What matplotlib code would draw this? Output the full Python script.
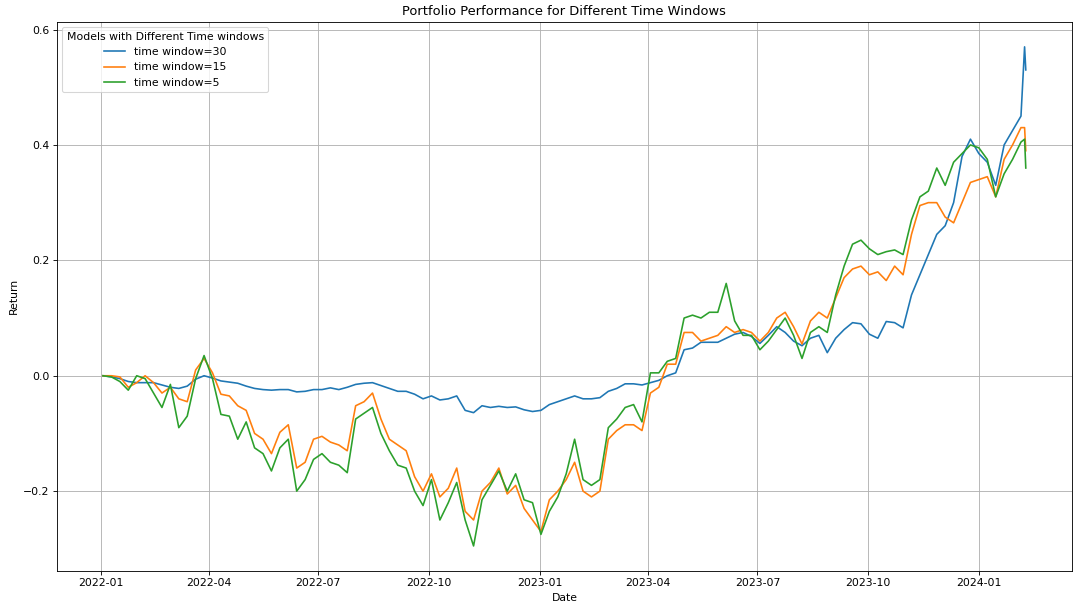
import pandas as pd
import matplotlib
matplotlib.use("Agg")
import matplotlib.pyplot as plt
import matplotlib.dates as mdates

# Weekly readings (Mondays), plus the last two days
dates = list(pd.date_range("2022-01-03", periods=110, freq="7D")) + \
    [pd.Timestamp("2024-02-08"), pd.Timestamp("2024-02-09")]

window_30 = [
    0.0, -0.002, -0.005, -0.01, -0.012, -0.012, -0.012, -0.016, -0.02, -0.022,
    -0.018, -0.006, 0.0, -0.004, -0.009, -0.011, -0.013, -0.018, -0.022, -0.024,
    -0.025, -0.024, -0.024, -0.028, -0.027, -0.024, -0.024, -0.021, -0.024, -0.02,
    -0.015, -0.013, -0.012, -0.017, -0.022, -0.027, -0.027, -0.032, -0.04, -0.035,
    -0.042, -0.04, -0.035, -0.06, -0.064, -0.052, -0.055, -0.053, -0.055, -0.054,
    -0.059, -0.062, -0.06, -0.05, -0.045, -0.04, -0.035, -0.04, -0.04, -0.038,
    -0.027, -0.022, -0.014, -0.014, -0.016, -0.012, -0.008, 0.0, 0.005, 0.045,
    0.048, 0.058, 0.058, 0.058, 0.065, 0.072, 0.075, 0.068, 0.056, 0.07,
    0.085, 0.075, 0.06, 0.052, 0.065, 0.07, 0.04, 0.065, 0.08, 0.092,
    0.09, 0.072, 0.065, 0.094, 0.092, 0.083, 0.14, 0.175, 0.21, 0.245,
    0.26, 0.3, 0.38, 0.41, 0.385, 0.37, 0.33, 0.4, 0.425, 0.45,
    0.57, 0.53,
]

window_15 = [
    0.0, 0.0, -0.002, -0.02, -0.012, 0.0, -0.012, -0.03, -0.02, -0.04,
    -0.045, 0.01, 0.03, 0.005, -0.032, -0.035, -0.052, -0.06, -0.1, -0.11,
    -0.135, -0.098, -0.085, -0.16, -0.15, -0.11, -0.105, -0.115, -0.12, -0.13,
    -0.052, -0.045, -0.03, -0.075, -0.11, -0.12, -0.13, -0.175, -0.2, -0.17,
    -0.21, -0.195, -0.16, -0.235, -0.25, -0.2, -0.185, -0.16, -0.205, -0.19,
    -0.23, -0.25, -0.27, -0.215, -0.2, -0.18, -0.15, -0.2, -0.21, -0.2,
    -0.11, -0.095, -0.085, -0.085, -0.095, -0.03, -0.02, 0.02, 0.02, 0.075,
    0.075, 0.06, 0.065, 0.07, 0.085, 0.075, 0.08, 0.075, 0.06, 0.075,
    0.1, 0.11, 0.085, 0.055, 0.095, 0.11, 0.1, 0.135, 0.17, 0.185,
    0.19, 0.175, 0.18, 0.165, 0.19, 0.175, 0.245, 0.295, 0.3, 0.3,
    0.275, 0.265, 0.3, 0.335, 0.34, 0.345, 0.31, 0.375, 0.4, 0.43,
    0.43, 0.39,
]

window_5 = [
    0.0, -0.002, -0.01, -0.025, 0.0, -0.005, -0.03, -0.055, -0.015, -0.09,
    -0.07, -0.005, 0.035, -0.005, -0.067, -0.07, -0.11, -0.08, -0.125, -0.135,
    -0.165, -0.125, -0.11, -0.2, -0.18, -0.145, -0.135, -0.15, -0.155, -0.168,
    -0.075, -0.065, -0.055, -0.1, -0.13, -0.155, -0.16, -0.2, -0.225, -0.18,
    -0.25, -0.22, -0.185, -0.25, -0.295, -0.215, -0.19, -0.165, -0.2, -0.17,
    -0.215, -0.22, -0.275, -0.235, -0.21, -0.17, -0.11, -0.18, -0.19, -0.18,
    -0.09, -0.075, -0.055, -0.05, -0.08, 0.005, 0.005, 0.025, 0.03, 0.1,
    0.105, 0.1, 0.11, 0.11, 0.16, 0.095, 0.07, 0.07, 0.045, 0.06,
    0.08, 0.1, 0.07, 0.03, 0.075, 0.085, 0.075, 0.14, 0.19, 0.228,
    0.235, 0.22, 0.21, 0.215, 0.218, 0.21, 0.27, 0.31, 0.32, 0.36,
    0.33, 0.37, 0.385, 0.4, 0.395, 0.375, 0.31, 0.35, 0.375, 0.405,
    0.41, 0.36,
]

series = [
    ("time window=30", window_30),
    ("time window=15", window_15),
    ("time window=5", window_5),
]

# the reference looks like a 14-inch figure scaled down, so use a low dpi
dpi = 78
fig, ax = plt.subplots(figsize=(1073 / dpi, 608 / dpi), dpi=dpi)
fig.subplots_adjust(left=0.053, right=0.999, top=0.964, bottom=0.061)

for label, values in series:
    ax.plot(dates, values, label=label, linewidth=1.5)

ax.xaxis.set_major_locator(mdates.MonthLocator(bymonth=[1, 4, 7, 10]))
ax.xaxis.set_major_formatter(mdates.DateFormatter("%Y-%m"))

ax.set_title("Portfolio Performance for Different Time Windows")
ax.set_xlabel("Date")
ax.set_ylabel("Return")
ax.grid(True)
ax.legend(title="Models with Different Time windows", loc="upper left")

fig.savefig("out.png", dpi=dpi)
